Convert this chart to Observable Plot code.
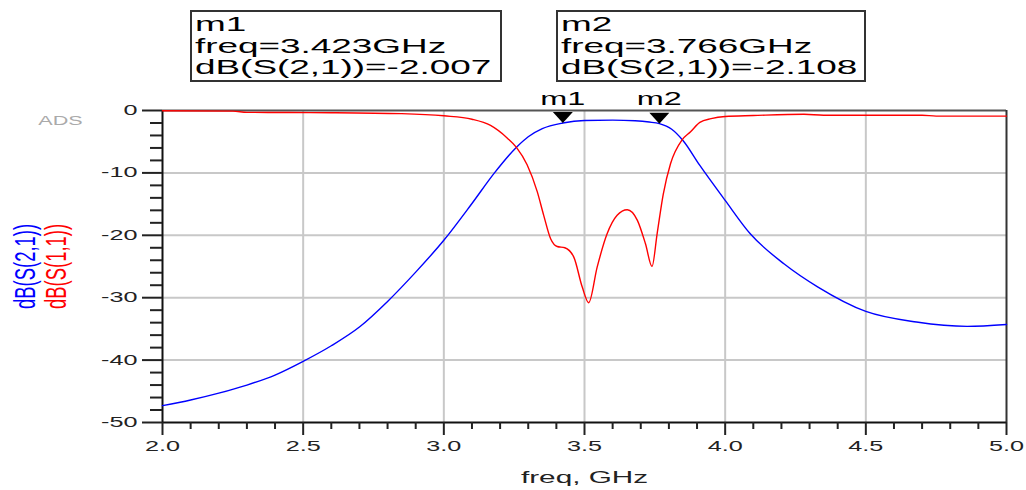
<!DOCTYPE html>
<html><head><meta charset="utf-8">
<script src="https://cdn.jsdelivr.net/npm/d3@7"></script>
<script src="https://cdn.jsdelivr.net/npm/@observablehq/plot@0.6"></script>
<style>body{margin:0;background:#fff} svg{display:block}</style>
</head><body>
<script>
// ---- data ----
const s21Freq = [2.0,2.1,2.2,2.3,2.4,2.5,2.6,2.7,2.8,2.9,3.0,3.1,3.18,3.26,3.3,3.35,3.423,3.5,3.6,3.68,3.73,3.766,3.81,3.85,3.91,4.0,4.09,4.21,4.33,4.5,4.68,4.86,5.0];
const s21Db   = [-47.3,-46.4,-45.3,-44.0,-42.4,-40.2,-37.7,-34.7,-30.6,-25.9,-20.8,-14.9,-10.0,-5.8,-4.2,-2.9,-2.0,-1.6,-1.55,-1.65,-1.85,-2.1,-3.0,-4.8,-8.8,-14.4,-19.8,-24.6,-28.3,-32.2,-33.9,-34.6,-34.3];
const s11Freq = [2.0,2.25,2.3,2.6,2.85,3.0,3.1,3.166,3.225,3.258,3.296,3.332,3.355,3.38,3.403,3.43,3.462,3.492,3.515,3.545,3.58,3.616,3.652,3.688,3.717,3.74,3.758,3.78,3.806,3.847,3.877,3.91,3.95,4.0,4.1,4.28,4.35,4.7,4.75,5.0];
const s11Db   = [-0.05,-0.1,-0.3,-0.35,-0.5,-0.85,-1.4,-2.4,-4.4,-5.9,-8.7,-13.0,-16.8,-20.6,-21.8,-22.0,-23.5,-28.3,-30.8,-25.1,-19.8,-16.8,-15.9,-17.6,-21.4,-25.0,-19.8,-13.4,-8.5,-4.7,-3.4,-1.9,-1.3,-0.95,-0.8,-0.6,-0.75,-0.75,-0.9,-0.9];

const markerNames = ["m1", "m2"];
const markerFreq = [3.423, 3.766];
const markerDb = [-2.007, -2.108];
const markerFreqText = ["3.423GHz", "3.766GHz"];
const markerDbText = ["-2.007", "-2.108"];
const traceName = "dB(S(2,1))";

const xTickValues = [2, 2.5, 3, 3.5, 4, 4.5, 5];
const xTickLabels = ["2.0", "2.5", "3.0", "3.5", "4.0", "4.5", "5.0"];
const yTickValues = [0, -10, -20, -30, -40, -50];
const yTickLabels = ["0", "-10", "-20", "-30", "-40", "-50"];
const xMinorTicks = [2.1,2.2,2.3,2.4,2.6,2.7,2.8,2.9,3.1,3.2,3.3,3.4,3.6,3.7,3.8,3.9,4.1,4.2,4.3,4.4,4.6,4.7,4.8,4.9];
const yMinorTicks = [-2,-4,-6,-8,-12,-14,-16,-18,-22,-24,-26,-28,-32,-34,-36,-38,-42,-44,-46,-48];
const xLabel = "freq, GHz";
const yLabelBlue = "dB(S(2,1))";
const yLabelRed = "dB(S(1,1))";
const cornerLabel = "ADS";

// ---- tables ----
const s21 = s21Freq.map((f, i) => ({freq: f, db: s21Db[i]}));
const s11 = s11Freq.map((f, i) => ({freq: f, db: s11Db[i]}));
const markers = markerNames.map((n, i) => ({name: n, freq: markerFreq[i], db: markerDb[i]}));

// readout box layout (pixels)
const boxLayout = [{x: 191, y: 11, w: 310, h: 70}, {x: 557, y: 11, w: 308, h: 70}];

const downTriangle = {
  draw(ctx) { ctx.moveTo(0, 0); ctx.lineTo(-10, -11); ctx.lineTo(10, -11); ctx.closePath(); }
};

const readoutBoxes = () => {
  const g = d3.create("svg:g").attr("text-anchor", "start");
  markers.forEach((m, i) => {
    const b = boxLayout[i];
    g.append("rect").attr("x", b.x).attr("y", b.y).attr("width", b.w).attr("height", b.h)
      .attr("fill", "white").attr("stroke", "#333").attr("stroke-width", 2);
    const lines = [m.name, "freq=" + markerFreqText[i], traceName + "=" + markerDbText[i]];
    lines.forEach((t, j) => {
      g.append("text").attr("transform", `translate(${b.x + 4},${b.y + 20 + j * 21.5})`)
        .attr("text-anchor", "start").attr("font-size", 20.5).attr("fill", "#000").text(t);
    });
  });
  return g.node();
};

const svg = Plot.plot({
  width: 1026,
  height: 490,
  marginLeft: 162,
  marginRight: 20,
  marginTop: 110,
  marginBottom: 68,
  style: {fontFamily: "'Liberation Sans', Arial, sans-serif", fontSize: "14px", color: "#222", background: "#fff"},
  x: {domain: [2, 5], label: null},
  y: {domain: [-50, 0], label: null},
  marks: [
    // grid
    Plot.ruleX(xTickValues.slice(1, -1), {stroke: "#c8c8c8", strokeWidth: 2}),
    Plot.ruleY(yTickValues.slice(1, -1), {stroke: "#c8c8c8", strokeWidth: 2}),
    // frame
    Plot.ruleY([0], {stroke: "#555", strokeWidth: 2}),
    Plot.ruleX([5], {stroke: "#333", strokeWidth: 2}),
    Plot.ruleX([2], {stroke: "#111", strokeWidth: 2}),
    Plot.ruleY([-50], {stroke: "#111", strokeWidth: 2}),
    // axes
    Plot.axisY({ticks: yMinorTicks, tickSize: 12, tickFormat: () => "", strokeWidth: 2, label: null}),
    Plot.axisY({ticks: yTickValues, tickSize: 20, tickPadding: 5, strokeWidth: 2, label: null,
      tickFormat: d => yTickLabels[yTickValues.indexOf(d)], fontSize: 14}),
    Plot.axisX({ticks: xMinorTicks, tickSize: 7, tickFormat: () => "", strokeWidth: 2, label: null}),
    Plot.axisX({ticks: xTickValues, tickSize: 13, tickPadding: 6, strokeWidth: 2, label: null,
      tickFormat: d => xTickLabels[xTickValues.indexOf(d)], fontSize: 14}),
    // curves
    Plot.line(s21, {x: "freq", y: "db", stroke: "#0000ff", strokeWidth: 1.4, curve: "monotone-x"}),
    Plot.line(s11, {x: "freq", y: "db", stroke: "#ff0000", strokeWidth: 1.4, curve: "monotone-x"}),
    // markers
    Plot.dot(markers, {x: "freq", y: "db", symbol: downTriangle, fill: "#000", stroke: null}),
    Plot.text(markers, {x: "freq", text: "name", frameAnchor: "top", lineAnchor: "middle", dy: -11, fontSize: 18, fill: "#000"}),
    // titles
    Plot.text([xLabel], {frameAnchor: "bottom", lineAnchor: "middle", dy: 55.5, fontSize: 16.5, fill: "#222"}),
    Plot.text([yLabelBlue], {frameAnchor: "left", textAnchor: "middle", lineAnchor: "middle", dx: -137, rotate: -90, fontSize: 18.5, fill: "#0000ff"}),
    Plot.text([yLabelRed], {frameAnchor: "left", textAnchor: "middle", lineAnchor: "middle", dx: -106, rotate: -90, fontSize: 18.5, fill: "#ff0000"}),
    Plot.text([cornerLabel], {frameAnchor: "top-left", textAnchor: "middle", lineAnchor: "middle", dx: -102, dy: 10.5, fontSize: 12, fill: "#aaa"}),
    readoutBoxes
  ]
});

// horizontally stretched lettering, as in the reference screenshot
svg.querySelectorAll("text").forEach(t => {
  const tr = t.getAttribute("transform") || "";
  if (tr.includes("rotate")) t.setAttribute("transform", tr + " scale(1,1.55)");
  else t.setAttribute("transform", tr + " scale(1.8,1)");
});
document.body.appendChild(svg);
</script>
</body></html>
